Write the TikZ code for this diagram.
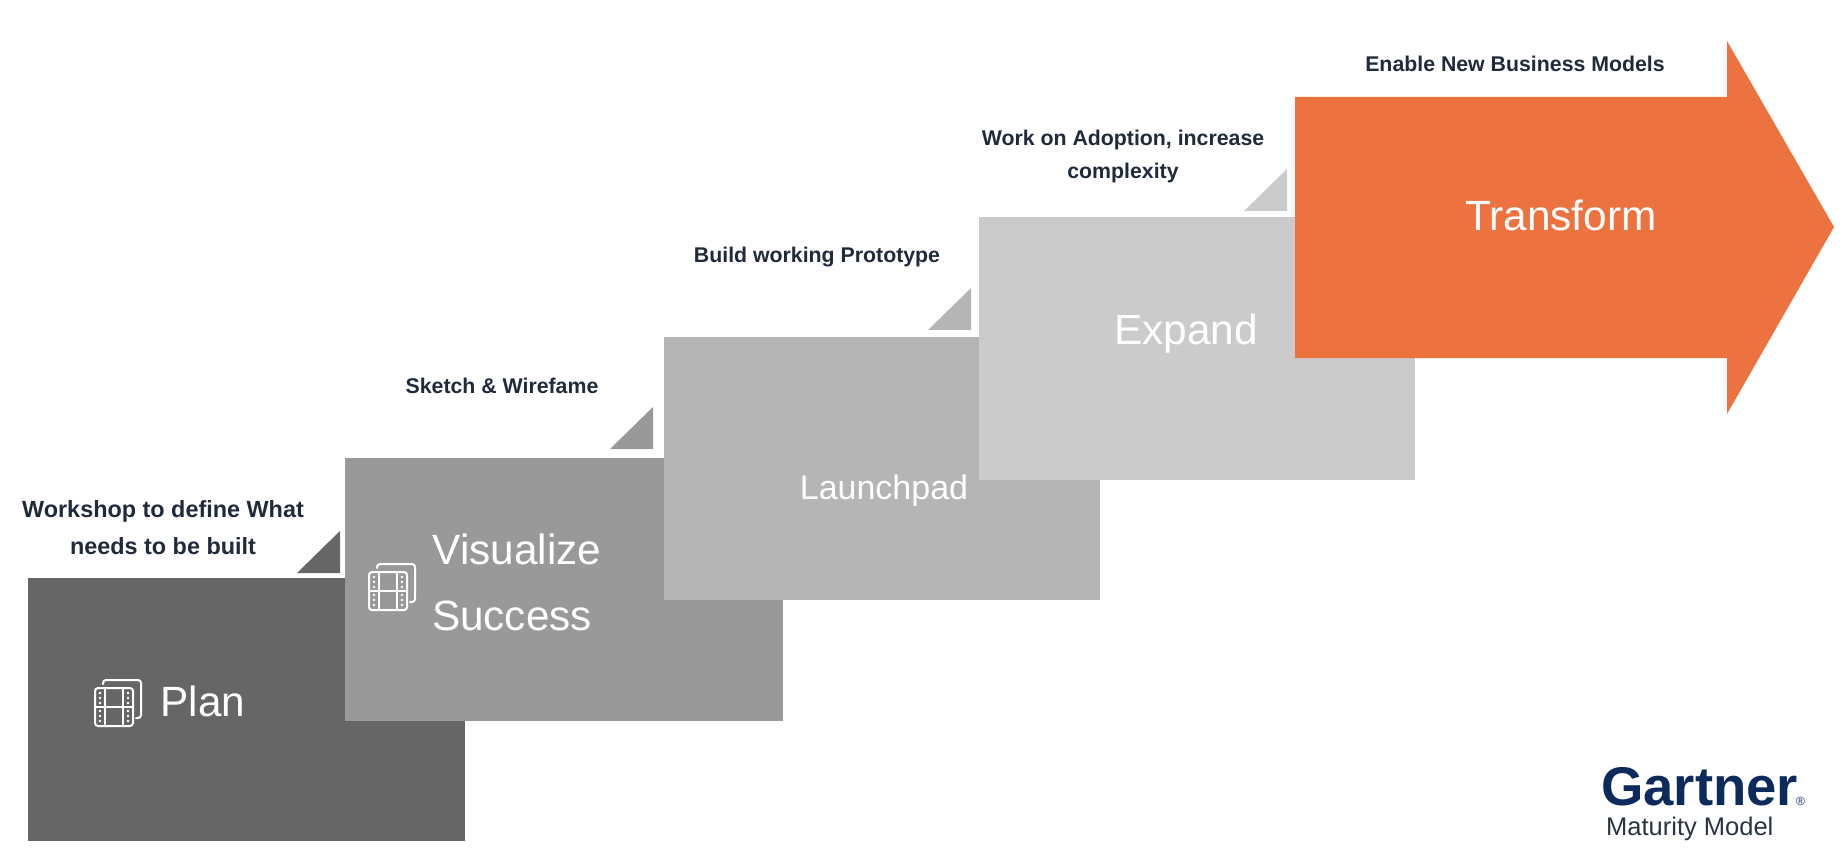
\documentclass[tikz,border=0pt]{standalone}
\usepackage{fontspec}
\setmainfont{Liberation Sans}
\usepackage{color}
\definecolor{plangray}{RGB}{102, 102, 102}
\definecolor{visualgray}{RGB}{153, 153, 153}
\definecolor{launchgray}{RGB}{181, 181, 181}
\definecolor{expandgray}{RGB}{203, 203, 203}
\definecolor{transorange}{RGB}{236, 114, 64}
\definecolor{notenavy}{RGB}{31, 42, 60}
\definecolor{logonavy}{RGB}{12, 42, 91}
\definecolor{logogray}{RGB}{42, 51, 64}

\tikzset{
    stagename/.style={text=white, anchor=base, inner sep=0pt, font=\fontsize{42.3}{66}\selectfont},
    stagenote/.style={text=notenavy, anchor=base, inner sep=0pt, align=center, font=\fontsize{21.3}{33}\selectfont\bfseries},
    filmline/.style={draw=white, line width=2, line cap=round},
    pics/filmicon/.style={code={
        \draw[filmline, rounded corners=3] (0,0) rectangle (38,38);
        \draw[filmline, rounded corners=3] (8,-4) -- (8,-8) -- (46,-8) -- (46,30) -- (41,30);
        \draw[filmline] (10,0) -- (10,38);
        \draw[filmline] (28,0) -- (28,38);
        \draw[filmline] (0,18.5) -- (38,18.5);
        \foreach \dotx in {5,33}
            \foreach \doty in {5,10,15,23,28,33}
                \fill[white] (\dotx,\doty) circle (1.3);
    }}
}

\begin{document}
\begin{tikzpicture}[x=1pt,y=-1pt]
    \useasboundingbox (0,0) rectangle (1846,858);
    % stages, back to front, each with its corner triangle
    \foreach \bx/\by/\ex/\tx/\ty/\col in {28/578/465/340/573/plangray, 345/458/783/653/449/visualgray, 664/337/1100/971/330/launchgray, 979/217/1415/1287/211/expandgray}{
        \fill[\col] (\bx,\by) rectangle (\ex,\by+263);
        \fill[\col] (\tx,\ty) -- ++(-43,0) -- ++(43,-42) -- cycle;
    }
    \fill[transorange] (1295,97) -- (1727,97) -- (1727,41) -- (1834,227) -- (1727,414) -- (1727,358) -- (1295,358) -- cycle;

    \pic at (95,688) {filmicon};
    \pic at (369,572) {filmicon};

    \node[stagename] (plan) at (203,716) {Plan};
    \node[stagename] (visualize) at (517,564) {Visualize};
    \node[stagename] (success) at (512,630) {Success};
    \node[stagename, font=\fontsize{34}{40}\selectfont] (launchpad) at (884,499) {Launchpad};
    \node[stagename] (expand) at (1186,344.5) {Expand};
    \node[stagename] (transform) at (1561,231) {Transform};

    \node[stagenote, font=\fontsize{23.4}{37}\selectfont\bfseries] (workshop) at (163,554) {Workshop to define What\\needs to be built};
    \node[stagenote] (sketch) at (502,393) {Sketch \& Wirefame};
    \node[stagenote] (build) at (817,263) {Build working Prototype};
    \node[stagenote] (adoption) at (1123,179) {Work on Adoption, increase\\complexity};
    \node[stagenote] (enable) at (1515,72) {Enable New Business Models};

    % logo
    \node[text=logonavy, anchor=base west, inner sep=0pt, font=\fontsize{54.5}{56}\selectfont\bfseries] (gartner) at (1601,805) {Gartner\kern-2pt{\fontsize{12}{12}\selectfont\mdseries ®}};
    \node[text=logogray, anchor=base west, inner sep=0pt, font=\fontsize{25.5}{30}\selectfont] (maturity) at (1606,835) {Maturity Model};
\end{tikzpicture}
\end{document}
